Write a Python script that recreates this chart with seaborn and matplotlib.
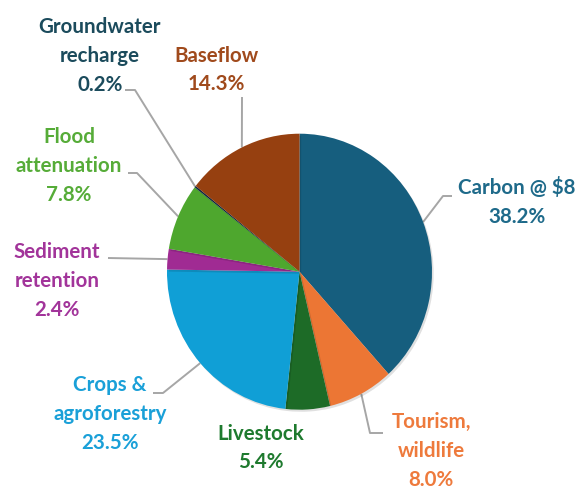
import matplotlib
matplotlib.use("Agg")
import matplotlib.pyplot as plt
import matplotlib.patheffects as pe
import numpy as np
import seaborn as sns

# ---- data ----
categories = ["Carbon @ $8", "Tourism,\nwildlife", "Livestock", "Crops &\nagroforestry",
              "Sediment\nretention", "Flood\nattenuation", "Groundwater\nrecharge", "Baseflow"]
values = [38.2, 8.0, 5.4, 23.5, 2.4, 7.8, 0.2, 14.3]
pct_labels = ["38.2%", "8.0%", "5.4%", "23.5%", "2.4%", "7.8%", "0.2%", "14.3%"]
wedge_colors = ["#165E7E", "#EC7634", "#1D6B27", "#109FD6", "#A02B93", "#4EA72E", "#0E2841", "#964010"]
text_colors = ["#1E6A8A", "#EE7A3C", "#1E7A2E", "#1AA0D8", "#A2349A", "#56AC38", "#1B4B5C", "#A04A1C"]

# ---- layout (pixel space) ----
W, H = 579, 491
CX, CY = 299.5, 271.7
RX, RY = 132.5, 138.0

label_pos = [(517, 202), (431, 451), (261, 448), (110, 414),
             (57, 281), (69, 166), (100, 56), (216, 70)]
leader_pts = [[(452, 196), (443, 196)],
              [(383, 433), (370, 433)],
              None,
              [(153, 393), (163, 393)],
              [(108, 258)],
              [(128, 173), (137, 173)],
              [(125, 90), (135, 90)],
              [(242, 97)]]

def to_data(px, py):
    return (px - CX) / RX, (CY - py) / RY

sns.set_theme(style="white")
plt.rcParams['font.family'] = ['Lato', 'DejaVu Sans']

fig = plt.figure(figsize=(W / 100, H / 100), dpi=100)
ax = fig.add_axes([0, 0, 1, 1])

wedges, _ = ax.pie(values, colors=wedge_colors, startangle=90, counterclock=False,
                   radius=1.0, wedgeprops=dict(linewidth=0))
for w in wedges:
    w.set_path_effects([pe.SimplePatchShadow(offset=(1.2, -1.5), shadow_rgbFace='#000000', alpha=0.12),
                        pe.Normal()])
ax.set_aspect('auto')
ax.set_xlim(-CX / RX, (W - CX) / RX)
ax.set_ylim((CY - H) / RY, CY / RY)
ax.axis('off')

for i, w in enumerate(wedges):
    tx, ty = to_data(*label_pos[i])
    ax.text(tx, ty, f"{categories[i]}\n{pct_labels[i]}", ha='center', va='center',
            fontsize=14.8, fontweight='bold', color=text_colors[i], linespacing=1.55)
    if leader_pts[i] is not None:
        mid = np.deg2rad((w.theta1 + w.theta2) / 2)
        ex, ey = np.cos(mid), np.sin(mid)
        pts = [to_data(*p) for p in leader_pts[i]] + [(ex, ey)]
        xs, ys = zip(*pts)
        ax.plot(xs, ys, color="#A6A6A6", lw=1.4, zorder=0.5, solid_capstyle='butt')

fig.savefig("out.png", dpi=100, facecolor="white")
